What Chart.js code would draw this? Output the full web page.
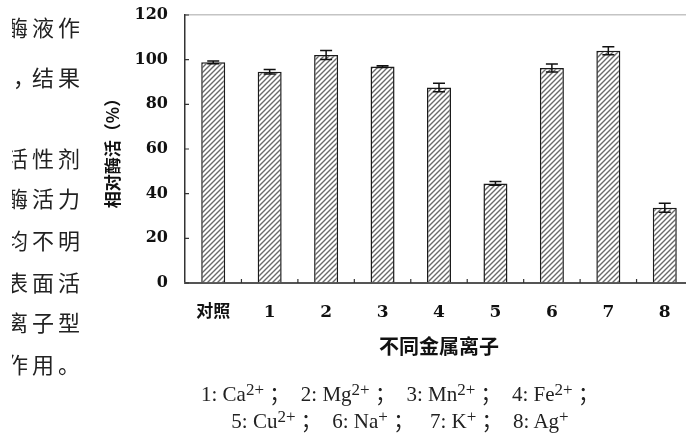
<!DOCTYPE html>
<html>
<head>
<meta charset="utf-8">
<script src="https://cdn.jsdelivr.net/npm/chart.js@4"></script>
<style>
  html, body { margin: 0; padding: 0; background: #fff; }
  body { width: 686px; height: 438px; overflow: hidden; position: relative; }
  #wrap { position: absolute; left: 0; top: 0; width: 700px; height: 438px; }
  #side { position: absolute; left: 12px; top: 0; width: 76px; height: 438px; overflow: hidden; }
  #side div { position: absolute; left: -6px; font: 22px "Noto Sans CJK SC"; letter-spacing: 4px; line-height: 22px; white-space: nowrap; color: #222; }
  #note { position: absolute; left: 150px; top: 381px; width: 500px; text-align: center; font: 21px "Liberation Serif", "Noto Sans CJK SC"; line-height: 27px; color: #222; white-space: nowrap; }
  #note sup { font-size: 17px; vertical-align: 6px; line-height: 0; }
</style>
</head>
<body>
<div id="wrap"><canvas id="chart" width="700" height="438"></canvas></div>

<!-- body text of the page that sits left of the figure, cut by the crop -->
<div id="side">
  <div style="top:15px">酶液作</div>
  <div style="top:65px"><span style="position:relative;left:7px">，</span>结果</div>
  <div style="top:146px">活性剂</div>
  <div style="top:186px">酶活力</div>
  <div style="top:228px">均不明</div>
  <div style="top:270px">表面活</div>
  <div style="top:310px">离子型</div>
  <div style="top:352px">作用。</div>
</div>

<div id="note">
  1: Ca<sup>2+</sup>&nbsp;；&nbsp;&nbsp;2: Mg<sup>2+</sup>&nbsp;；&nbsp;&nbsp;3: Mn<sup>2+</sup>&nbsp;；&nbsp;&nbsp;4: Fe<sup>2+</sup>&nbsp;；<br>
  5: Cu<sup>2+</sup>&nbsp;；&nbsp;&nbsp;6: Na<sup>+</sup>&nbsp;；&nbsp;&nbsp;&nbsp;7: K<sup>+</sup>&nbsp;；&nbsp;&nbsp;8: Ag<sup>+</sup>
</div>

<script>
// 相对酶活 under different metal ions
const labels = ['对照', '1', '2', '3', '4', '5', '6', '7', '8'];
const activity = [98.8, 94.6, 102.1, 96.9, 87.5, 44.6, 96.3, 104.0, 33.7];
const errors = [0.6, 1.0, 2.0, 0.4, 1.9, 0.8, 1.8, 1.8, 2.0];
const yTicks = [0, 20, 40, 60, 80, 100, 120];

const canvas = document.getElementById('chart');
const ctx = canvas.getContext('2d');

// diagonal hatch for the bars
function makeHatch() {
    const c = document.createElement('canvas');
    c.width = 5;
    c.height = 5;
    const g = c.getContext('2d');
    g.fillStyle = '#fff';
    g.fillRect(0, 0, 5, 5);
    g.strokeStyle = '#6a6a6a';
    g.lineWidth = 1.4;
    g.beginPath();
    g.moveTo(-1, 6); g.lineTo(6, -1);
    g.moveTo(-1, 1); g.lineTo(1, -1);
    g.moveTo(4, 6); g.lineTo(6, 4);
    g.stroke();
    return ctx.createPattern(c, 'repeat');
}

// error bars + inward tick marks
const extras = {
    id: 'extras',
    afterDatasetsDraw(chart) {
        const { ctx, scales: { x, y }, chartArea } = chart;
        const meta = chart.getDatasetMeta(0);
        ctx.save();
        ctx.strokeStyle = '#111';
        ctx.lineWidth = 1.5;
        meta.data.forEach((bar, i) => {
            const top = y.getPixelForValue(activity[i] + errors[i]);
            const bot = y.getPixelForValue(activity[i] - errors[i]);
            ctx.beginPath();
            ctx.moveTo(bar.x, top); ctx.lineTo(bar.x, bot);
            ctx.moveTo(bar.x - 6, top); ctx.lineTo(bar.x + 6, top);
            ctx.moveTo(bar.x - 6, bot); ctx.lineTo(bar.x + 6, bot);
            ctx.stroke();
        });

        ctx.strokeStyle = '#333';
        ctx.lineWidth = 1.2;
        ctx.beginPath();
        yTicks.forEach(v => {
            const py = y.getPixelForValue(v);
            ctx.moveTo(chartArea.left, py);
            ctx.lineTo(chartArea.left + 4, py);
        });
        for (let i = 0; i < labels.length - 1; i++) {
            const px = (x.getPixelForValue(i) + x.getPixelForValue(i + 1)) / 2;
            ctx.moveTo(px, chartArea.bottom);
            ctx.lineTo(px, chartArea.bottom - 4);
        }
        ctx.stroke();
        ctx.restore();
    }
};

new Chart(ctx, {
    type: 'bar',
    data: {
        labels: labels,
        datasets: [{
            data: activity,
            backgroundColor: makeHatch(),
            borderColor: '#1a1a1a',
            borderWidth: 1.5,
            barPercentage: 0.85,
            categoryPercentage: 0.5
        }]
    },
    options: {
        responsive: false,
        animation: false,
        devicePixelRatio: 1,
        layout: { padding: { left: 100, right: 7, top: 15, bottom: 80 } },
        plugins: {
            legend: { display: false },
            tooltip: { enabled: false }
        },
        scales: {
            y: {
                min: 0,
                max: 120,
                afterFit(scale) { scale.width = 85; },
                ticks: {
                    stepSize: 20,
                    padding: 2,
                    color: '#111',
                    font: { family: "'DejaVu Serif'", size: 16, weight: 'bold' }
                },
                grid: {
                    drawTicks: true,
                    tickLength: 15,
                    tickColor: 'rgba(0,0,0,0)',
                    color: c => (c.tick && c.tick.value === 120) ? '#c4c4c4' : 'rgba(0,0,0,0)',
                    lineWidth: 1.5
                },
                border: { color: '#333', width: 1.5 },
                title: {
                    display: true,
                    text: '相对酶活（%）',
                    color: '#111',
                    padding: { top: 2, bottom: 0 },
                    font: { family: "'Noto Sans CJK SC'", size: 17, weight: 'bold' }
                }
            },
            x: {
                afterFit(scale) { scale.height = 75; },
                ticks: {
                    padding: 19,
                    color: '#111',
                    font: { family: "'DejaVu Serif', 'Noto Sans CJK SC'", size: 17, weight: 'bold' }
                },
                grid: { display: false, drawTicks: false },
                border: { color: '#555', width: 2 },
                title: {
                    display: true,
                    text: '不同金属离子',
                    color: '#111',
                    padding: 0,
                    font: { family: "'Noto Sans CJK SC'", size: 20, weight: 'bold' }
                }
            }
        }
    },
    plugins: [extras]
});
</script>
</body>
</html>
